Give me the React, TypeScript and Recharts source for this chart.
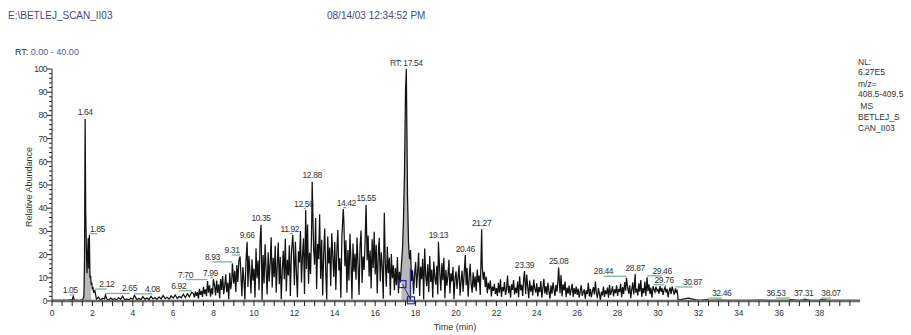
import {
  Area,
  ComposedChart,
  Line,
  ReferenceDot,
  ReferenceLine,
  Scatter,
  XAxis,
  YAxis
} from 'recharts'

const CHART_W = 911
const CHART_H = 335
const FONT = '"Liberation Sans", Arial, Helvetica, sans-serif'
const TITLE_INK = '#4a4a80'
const TEXT_INK = '#333'

// ion chromatogram, m/z 408.5-409.5, relative abundance (%) per scan
// each block: first scan time (min), scan spacing (min), intensities
const preRunStart = 0
const preRunStep = 0.1
const preRunScans = [0.4, 0.3, 0.4, 0.3, 0.4, 0.3, 0.4, 0.3, 0.4, 0.5, 0.5, 0.5, 0.4, 0.3, 0.4, 0.6]

const frontStart = 1.55
const frontStep = 0.03
const frontScans = [1.0, 2.5, 18, 77, 38, 24, 12, 19, 27, 14, 28, 10, 11, 7, 8, 5, 6, 3.5, 4.5, 4]

const quietStart = 2.2
const quietStep = 0.1
const quietScans = [
  0.8, 1.6, 0.5, 1.1, 0.9, 1.0, 0.4, 1.3, 0.6, 1.0,
  0.5, 1.4, 0.7, 2.1, 0.5, 0.9, 0.4, 1.2, 0.8, 1.5,
  0.6, 1.1, 0.5, 1.9, 0.7, 1.3, 0.6, 2.0, 0.9, 1.4,
  0.7, 1.8, 0.9, 2.4, 1.0, 1.6, 0.8, 2.2, 1.3, 2.6,
  1.1, 2.0, 1.4, 2.9, 1.5, 3.1, 1.8, 2.7
]

const bulkStart = 7.0
const bulkStep = 0.05
const bulkScans = [
  3.2, 1.5, 4.1, 2.2, 3.8, 1.0, 5.2, 2.6, 4.4, 1.8, 6.1, 3.0, 5.0, 2.1, 8.2, 3.6, 6.8, 1.9, 5.5, 2.8,
  4.0, 6.5, 2.4, 8.8, 3.5, 7.2, 1.2, 9.5, 4.8, 10.8, 2.9, 6.4, 11.5, 3.8, 7.9, 0.8, 12.2, 5.1, 9.0, 4.2,
  7.5, 13.0, 3.9, 15.5, 8.2, 17.2, 5.0, 11.8, 2.1, 14.6, 9.3, 0.6, 16.8, 10.2, 6.0, 19.5, 12.4, 3.2, 18.0, 8.8,
  14.0, 1.5, 22.6, 9.8, 17.4, 4.6, 26.0, 11.2, 0.4, 19.8, 7.6, 24.5, 13.6, 2.8, 21.0, 8.4, 16.2, 27.5, 5.8, 18.6,
  10.2, 23.8, 3.6, 15.4, 25.2, 7.2, 19.0, 0.8, 13.5, 21.6, 9.4, 26.8, 4.2, 17.8, 11.0, 24.0, 2.2, 20.2, 14.8, 22.4,
  6.8, 25.5, 12.2, 1.6, 21.4, 16.6, 30.2, 8.0, 19.4, 27.0, 3.0, 24.2, 13.8, 33.0, 7.4, 20.8, 11.6, 29.6, 1.2, 22.8,
  15.6, 35.8, 5.2, 24.6, 18.0, 37.4, 9.6, 26.4, 2.4, 20.6, 31.2, 12.8, 0.6, 27.8, 16.2, 23.0, 6.4, 29.2, 19.8, 10.4,
  25.4, 4.8, 21.2, 30.6, 13.2, 18.4, 1.4, 27.6, 11.8, 34.0, 15.0, 26.2, 3.6, 22.0, 8.8, 29.0, 17.2, 0.8, 24.8, 12.6,
  20.4, 9.2, 27.4, 15.8, 2.6, 23.6, 30.4, 7.8, 19.2, 13.4, 25.8, 1.8, 17.6, 28.2, 10.6, 21.8, 5.4, 26.6, 14.2, 29.8,
  11.4, 24.2, 3.2, 19.6, 27.2, 8.4, 21.0, 14.6, 1.0, 38.0, 16.8, 6.2, 23.4, 12.0, 18.6, 2.4, 20.2, 9.8, 15.4, 4.6,
  14.2, 6.8, 19.0, 3.4, 12.6, 8.0, 16.2, 22.0, 35.0, 55.0, 90.0, 70.0, 45.0, 25.0, 18.0, 22.0, 8.6, 13.2, 3.0, 11.4,
  16.8, 5.6, 12.4, 20.8, 2.2, 14.8, 9.4, 18.2, 0.6, 22.6, 11.0, 6.4, 15.8, 3.8, 19.4, 8.2, 13.6, 1.4, 17.0, 10.2,
  7.0, 15.2, 2.8, 20.0, 11.8, 4.4, 16.4, 9.0, 18.6, 1.2, 13.4, 6.6, 10.8, 17.8, 3.2, 12.0, 8.4, 14.6, 0.8, 9.6,
  12.8, 5.2, 10.0, 15.4, 2.4, 8.6, 13.0, 4.0, 11.2, 18.0, 6.8, 14.2, 1.8, 9.8, 16.0, 7.2, 3.6, 12.4, 5.8, 10.6,
  4.2, 13.6, 8.0, 11.0, 2.6, 24.0, 14.8, 9.2, 12.6, 6.0, 10.4, 3.4, 7.8, 5.0, 8.8, 2.0, 6.2, 4.4, 7.4, 3.0,
  5.6, 2.2, 7.8, 3.6, 9.4, 1.8, 6.0, 4.2, 8.2, 2.6, 5.0, 11.0, 3.4, 6.6, 1.4, 7.2, 4.8, 9.0, 2.8, 5.8,
  3.4, 8.4, 1.6, 10.6, 4.6, 7.0, 2.2, 9.8, 5.0, 3.0, 11.4, 6.2, 1.2, 8.8, 4.0, 6.8, 2.4, 9.2, 5.2, 3.6,
  7.6, 2.0, 6.0, 3.8, 8.6, 1.4, 5.4, 9.6, 3.2, 6.4, 2.6, 7.8, 4.4, 1.0, 6.8, 3.0, 8.0, 5.0, 2.2, 7.0,
  4.0, 9.2, 6.0, 3.4, 11.2, 2.0, 7.2, 4.6, 8.4, 1.6, 5.8, 3.2, 6.6, 2.4, 4.8, 7.4, 1.8, 5.6, 3.0, 6.2,
  2.6, 5.4, 1.4, 4.2, 6.8, 2.2, 3.8, 5.0, 1.0, 4.6, 3.0, 7.8, 2.0, 5.2, 1.6, 4.0, 6.0, 2.8, 8.4, 3.6,
  1.2, 5.6, 3.2, 0.4, 4.0, 2.4, 6.2, 1.8, 4.6, 3.0, 5.8, 1.4, 7.0, 2.6, 4.2, 6.4, 2.0, 5.0, 3.4, 6.8,
  2.2, 5.2, 3.8, 7.4, 1.6, 6.0, 3.0, 8.2, 4.4, 2.6, 5.6, 3.2, 6.8, 1.2, 4.8, 8.0, 2.8, 6.2, 3.6, 5.4,
  2.4, 7.6, 4.0, 9.0, 1.8, 5.6, 3.4, 8.4, 2.2, 6.0, 4.2, 7.2, 3.0, 5.8, 1.4, 6.6, 5.0, 3.8, 6.2, 4.4,
  5.0, 3.2, 6.4, 4.0, 5.6, 2.6, 4.8, 6.0, 3.6, 5.2, 1.6, 4.4, 5.8, 3.0, 6.2, 4.6, 2.8, 5.0, 3.8, 4.4
]

const tailStart = 31.0
const tailStep = 0.5
const tailScans = [0.4, 1.2, 0.3, 0.3, 0.4, 0.3, 0.3, 0.3, 0.4, 0.3, 0.3, 0.3, 0.3, 0.4, 0.3, 0.3, 0.3, 0.3, 0.3]

// labelled peak apexes
const apexTimes = [
  1.05, 1.64, 1.85, 2.12, 2.65, 4.08, 6.92, 7.70, 7.99, 8.93,
  9.31, 9.66, 10.35, 11.92, 12.56, 12.88, 14.42, 15.55, 17.54, 19.13,
  20.46, 21.27, 23.39, 25.08, 28.44, 28.87, 29.46, 29.76, 30.87, 32.46,
  36.53, 37.31, 38.07
]
const apexHeights = [
  2.0, 78.5, 28.4, 4.5, 2.6, 2.4, 3.8, 8.6, 9.4, 16.2,
  19.2, 25.5, 32.8, 28.4, 39.2, 51.4, 39.6, 41.4, 100, 25.5,
  19.8, 30.9, 12.9, 14.4, 10.0, 11.6, 10.2, 6.4, 5.4, 0.6,
  0.6, 0.6, 0.6
]
// horizontal offset of each label from its apex, px (a leader runs back to the apex)
const apexLabelShift = [
  -3, 0, 8, 12, 24, 18, -13, -22, -3, -20,
  -8, 0, 0, -3, -2, 0, 3, 0, 0, 0,
  0, 0, 0, 0, -23, 0, 15, 11, 17, 14,
  -14, -2, 10
]

// integrated peak windows (shaded)
const shadedWindows = [[1.58, 1.95], [17.3, 17.8]]

// baseline markers of the integrated base peak
const baselineTimes = [17.35, 17.77]
const baselineLevels = [7.3, 0.3]
const dropLineTime = 17.74
const dropLineTop = 14

const xTicks = [
  0, 0.5, 1, 1.5, 2, 2.5, 3, 3.5, 4, 4.5, 5, 5.5, 6, 6.5, 7, 7.5, 8, 8.5, 9, 9.5,
  10, 10.5, 11, 11.5, 12, 12.5, 13, 13.5, 14, 14.5, 15, 15.5, 16, 16.5, 17, 17.5, 18, 18.5, 19, 19.5,
  20, 20.5, 21, 21.5, 22, 22.5, 23, 23.5, 24, 24.5, 25, 25.5, 26, 26.5, 27, 27.5, 28, 28.5, 29, 29.5,
  30, 30.5, 31, 31.5, 32, 32.5, 33, 33.5, 34, 34.5, 35, 35.5, 36, 36.5, 37, 37.5, 38, 38.5, 39, 39.5
]
const yTicks = [
  0, 2, 4, 6, 8, 10, 12, 14, 16, 18, 20, 22, 24, 26, 28, 30, 32, 34, 36, 38, 40,
  42, 44, 46, 48, 50, 52, 54, 56, 58, 60, 62, 64, 66, 68, 70, 72, 74, 76, 78, 80,
  82, 84, 86, 88, 90, 92, 94, 96, 98, 100
]

const blocks: [number, number, number[]][] = [
  [preRunStart, preRunStep, preRunScans],
  [frontStart, frontStep, frontScans],
  [quietStart, quietStep, quietScans],
  [bulkStart, bulkStep, bulkScans],
  [tailStart, tailStep, tailScans]
]

const apexData = apexTimes.map((t, i) => ({
  t,
  v: apexHeights[i],
  dx: apexLabelShift[i],
  text: apexHeights[i] === 100 ? `RT: ${t.toFixed(2)}` : t.toFixed(2)
}))

const scans = blocks
  .flatMap(([start, step, vals]) => vals.map((v, i) => ({ t: +(start + i * step).toFixed(3), v })))
  .filter(p => !apexTimes.some(a => Math.abs(a - p.t) < 0.025))

const trace = [...scans, ...apexData.map(a => ({ t: a.t, v: a.v }))]
  .sort((a, b) => a.t - b.t)
  .map(p => ({
    ...p,
    shade: shadedWindows.some(([a, b]) => p.t >= a && p.t <= b) ? p.v : null
  }))

function TimeTick(props: any) {
  const { x, y, payload } = props
  const v = payload.value
  const labelled = v % 2 === 0 && v <= 38
  return (
    <g>
      <line x1={x} x2={x} y1={y} y2={y + 5} stroke="#222" strokeWidth={1} />
      {labelled && (
        <text x={x} y={y + 15} textAnchor="middle" fontSize={8.5} fill={TEXT_INK} fontFamily={FONT}>
          {v}
        </text>
      )}
    </g>
  )
}

function AbundanceTick(props: any) {
  const { x, y, payload } = props
  const v = payload.value
  const labelled = v % 10 === 0
  return (
    <g>
      <line x1={labelled ? x - 5 : x - 3} x2={x} y1={y} y2={y} stroke="#222" strokeWidth={1} />
      {labelled && (
        <text x={x - 5} y={y + 3} textAnchor="end" fontSize={8.5} letterSpacing={-0.5} fill={TEXT_INK} fontFamily={FONT}>
          {v}
        </text>
      )}
    </g>
  )
}

function PeakLabel(props: any) {
  const { cx, cy, payload } = props
  const { dx, text } = payload
  return (
    <g>
      {dx !== 0 && (
        <line x1={cx} x2={cx + dx} y1={cy - 1.5} y2={cy - 1.5} stroke="#7fb394" strokeWidth={1.3} />
      )}
      <text x={cx + dx} y={cy - 3.5} textAnchor="middle" fontSize={8.5} letterSpacing={-0.4} fill={TEXT_INK} fontFamily={FONT}>
        {text}
      </text>
    </g>
  )
}

const BaselineBox = (p: any) => (
  <rect x={p.cx - 3.5} y={p.cy - 3.5} width={7} height={7} fill="none" stroke="#2b2b9c" strokeWidth={1.2} />
)

const sideNotes = ['NL:', '6.27E5', 'm/z=', '408.5-409.5', ' MS', 'BETLEJ_S', 'CAN_II03']
const sideNoteY = [65, 75, 87, 97, 109, 120, 131]

export default function App() {
  return (
    <div style={{ position: 'absolute', left: 0, top: 0, width: CHART_W, height: CHART_H, background: '#fff', fontFamily: FONT }}>
      <ComposedChart
        width={CHART_W}
        height={CHART_H}
        data={trace}
        margin={{ top: 69, right: 51, left: 0, bottom: 0 }}
      >
        <XAxis
          dataKey="t"
          type="number"
          domain={[0, 40]}
          ticks={xTicks}
          interval={0}
          height={34}
          tickSize={0}
          tickMargin={0}
          tickLine={false}
          axisLine={{ stroke: '#666', strokeWidth: 2.5 }}
          tick={(p: any) => <TimeTick {...p} />}
        />
        <YAxis
          type="number"
          domain={[0, 100]}
          ticks={yTicks}
          interval={0}
          width={52}
          tickSize={0}
          tickMargin={0}
          tickLine={false}
          axisLine={{ stroke: '#222', strokeWidth: 1 }}
          tick={(p: any) => <AbundanceTick {...p} />}
        />
        <Area
          type="linear"
          dataKey="shade"
          stroke="none"
          fill="#b8b8b8"
          fillOpacity={1}
          baseValue={0}
          connectNulls={false}
          dot={false}
          activeDot={false}
          isAnimationActive={false}
        />
        <Line
          type="linear"
          dataKey="v"
          stroke="#111"
          strokeWidth={1.25}
          dot={false}
          activeDot={false}
          isAnimationActive={false}
        />
        <ReferenceLine
          segment={[
            { x: baselineTimes[0], y: baselineLevels[0] },
            { x: baselineTimes[1], y: baselineLevels[1] }
          ]}
          stroke="#2b2b9c"
          strokeWidth={1}
        />
        <ReferenceLine
          segment={[
            { x: dropLineTime, y: 0 },
            { x: dropLineTime, y: dropLineTop }
          ]}
          stroke="#2b2b9c"
          strokeWidth={1.2}
        />
        {baselineTimes.map((t, i) => (
          <ReferenceDot key={t} x={t} y={baselineLevels[i]} r={3} shape={BaselineBox} />
        ))}
        <Scatter
          data={apexData}
          dataKey="v"
          shape={(p: any) => <PeakLabel {...p} />}
          isAnimationActive={false}
        />
      </ComposedChart>

      <svg
        width={CHART_W}
        height={CHART_H}
        style={{ position: 'absolute', left: 0, top: 0, pointerEvents: 'none' }}
        fontFamily={FONT}
      >
        <text x={8} y={19} fontSize={10} fill={TITLE_INK}>E:\BETLEJ_SCAN_II03</text>
        <text x={327} y={19} fontSize={10} fill={TITLE_INK}>08/14/03 12:34:52 PM</text>
        <text x={15} y={55} fontSize={9} fill={TEXT_INK}>
          RT: <tspan fill="#5656a6">0.00 - 40.00</tspan>
        </text>
        {sideNotes.map((s, i) => (
          <text key={s} x={858} y={sideNoteY[i]} fontSize={8.5} fill={TEXT_INK} xmlSpace="preserve">
            {s}
          </text>
        ))}
        <text
          x={30}
          y={187}
          fontSize={9}
          fill={TEXT_INK}
          textAnchor="middle"
          transform="rotate(-90 30 187)"
          dominantBaseline="middle"
        >
          Relative Abundance
        </text>
        <text x={455} y={330} fontSize={9} fill={TEXT_INK} textAnchor="middle">Time (min)</text>
      </svg>
    </div>
  )
}
